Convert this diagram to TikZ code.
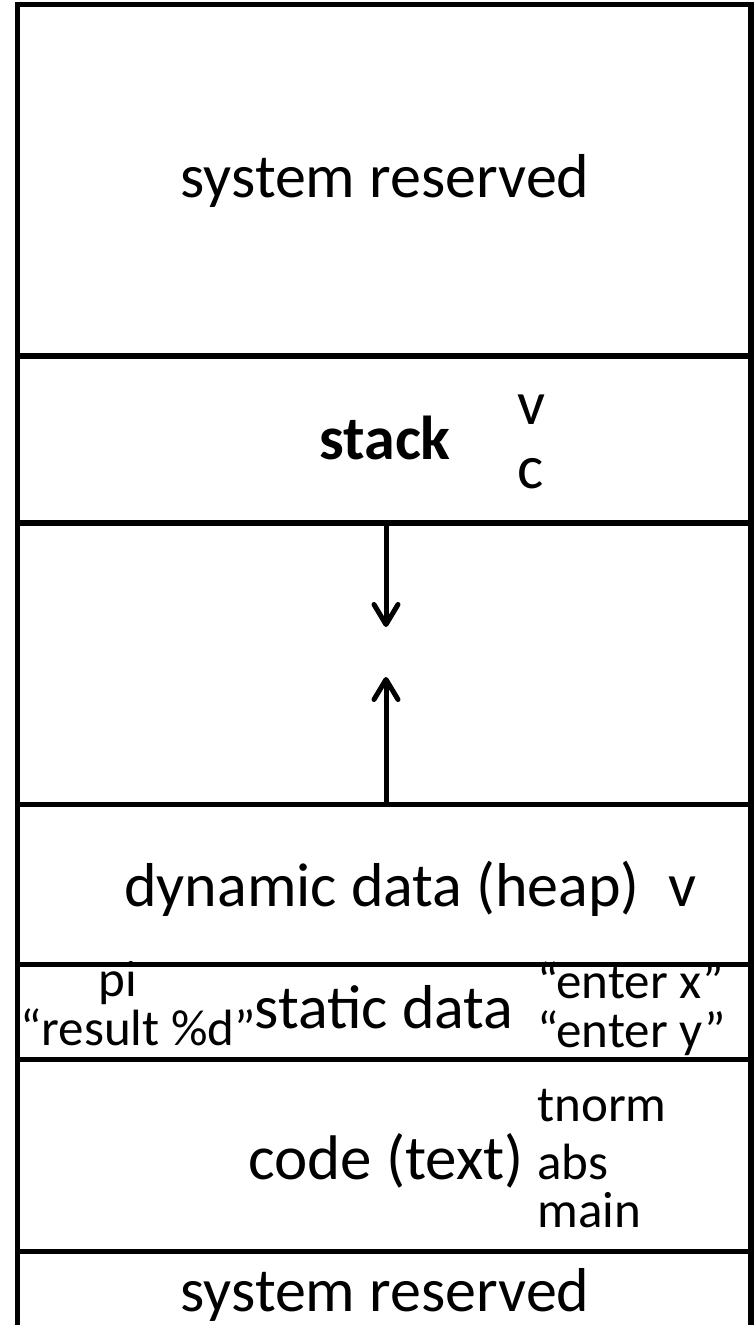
\documentclass[tikz,border=0pt]{standalone}
\usepackage{fontspec}
\setmainfont{Carlito}
\usetikzlibrary{arrows.meta}

\begin{document}
\begin{tikzpicture}[x=0.5pt,y=-0.5pt,
  >={Straight Barb[length=10pt,width=12pt,round]},
  wall/.style={line width=2.75pt},
  growth/.style={->,line width=2.5pt},
  big/.style={font=\fontsize{31}{37}\selectfont,inner sep=0pt,anchor=base},
  small/.style={font=\fontsize{25.5}{31}\selectfont,inner sep=0pt,anchor=base west}]
  \useasboundingbox (0,0) rectangle (755,1325);

  % memory column and its segments
  \draw[wall] (17.5,1325) -- (17.5,4.5) -- (751,4.5) -- (751,1325);
  \foreach \y in {356,523,804.5,964.5,1059.5,1251.5}
    \draw[wall] (17.5,\y) -- (751,\y);

  \node[big] (sysTop) at (385,198) {system reserved};

  \node[big,font=\fontsize{31}{37}\selectfont\bfseries] (stack) at (385,460) {stack};
  \node[small,font=\fontsize{31}{37}\selectfont] (stackV) at (517,425) {v};
  \node[small,font=\fontsize{31}{37}\selectfont] (stackC) at (517,488) {c};

  % free space between stack and heap
  \coordinate (stackEnd) at (386,523);
  \coordinate (stackTip) at (386,627);
  \coordinate (heapEnd) at (386,804.5);
  \coordinate (heapTip) at (386,677);
  \draw[growth] (stackEnd) -- (stackTip);
  \draw[growth] (heapEnd) -- (heapTip);

  \node[big] (heap) at (382,906) {dynamic data (heap)};
  \node[small,font=\fontsize{31}{37}\selectfont] (heapV) at (668,906) {v};

  \node[big] (static) at (384,1028) {static data};
  \node[small,anchor=base] (pi) at (118,996) {pi};
  \node[small] (result) at (20,1045) {“result \%d”};
  \node[small] (enterX) at (537,998) {“enter x”};
  \node[small] (enterY) at (537,1047) {“enter y”};

  \node[big,font=\fontsize{31.5}{37}\selectfont] (code) at (386,1179) {code (text)};
  \node[small] (tnorm) at (537,1121) {tnorm};
  \node[small] (abs) at (537,1179) {abs};
  \node[small] (main) at (537,1227) {main};

  \node[big] (sysBot) at (385,1311) {system reserved};
\end{tikzpicture}
\end{document}
